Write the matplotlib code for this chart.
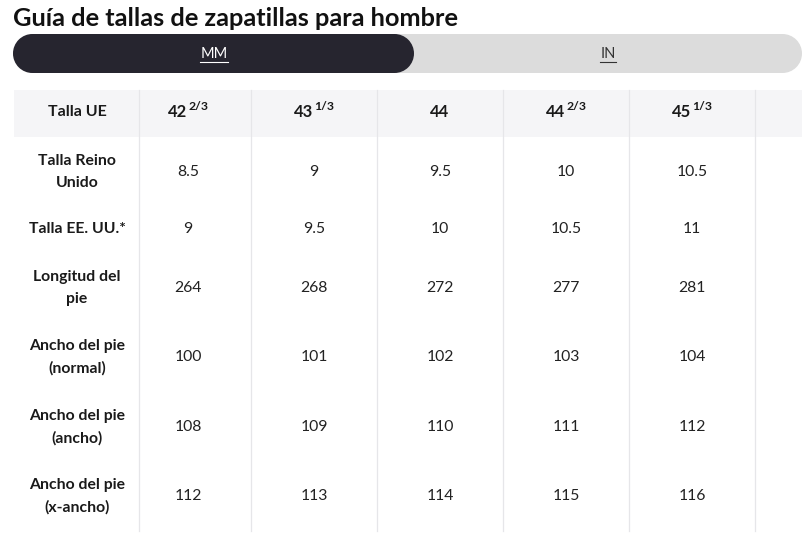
import matplotlib
matplotlib.use("Agg")
import matplotlib.pyplot as plt
from matplotlib.patches import Rectangle, Circle

plt.rcParams['font.family'] = ['Lato', 'DejaVu Sans']

title = "Guía de tallas de zapatillas para hombre"
tabs = ["MM", "IN"]
eu_main = ["42", "43", "44", "44", "45"]
eu_frac = ["2/3", "1/3", "", "2/3", "1/3"]
row_labels = ["Talla Reino\nUnido", "Talla EE. UU.*", "Longitud del\npie",
              "Ancho del pie\n(normal)", "Ancho del pie\n(ancho)", "Ancho del pie\n(x-ancho)"]
uk = [8.5, 9, 9.5, 10, 10.5]
us = [9, 9.5, 10, 10.5, 11]
foot_length = [264, 268, 272, 277, 281]
width_normal = [100, 101, 102, 103, 104]
width_wide = [108, 109, 110, 111, 112]
width_xwide = [112, 113, 114, 115, 116]
rows = [uk, us, foot_length, width_normal, width_wide, width_xwide]

W, H = 802, 539
fig = plt.figure(figsize=(W/100, H/100), dpi=100)
ax = fig.add_axes([0, 0, 1, 1])
ax.set_xlim(0, W)
ax.set_ylim(H, 0)
ax.axis('off')

dark = "#26252f"
text_c = "#1a1a1a"

# title
ax.text(13, 19, title, fontsize=18.3, fontweight='bold', color="#111111", va='center', ha='left')

# toggle pills
for x0, x1, col in [(13, 802, "#dcdcdc"), (13, 414, dark)]:
    r = 19.5
    ax.add_patch(Rectangle((x0 + r, 34), x1 - x0 - 2*r, 39, fc=col, ec='none'))
    ax.add_patch(Circle((x0 + r, 34 + r), r, fc=col, ec='none'))
    ax.add_patch(Circle((x1 - r, 34 + r), r, fc=col, ec='none'))

tab_texts = []
for cx, lab, col in [(214, tabs[0], "white"), (608, tabs[1], "#333333")]:
    tab_texts.append(ax.text(cx, 54, lab, fontsize=10.5, color=col, ha='center', va='center'))
fig.canvas.draw()
renderer = fig.canvas.get_renderer()
inv = ax.transData.inverted()
for t in tab_texts:
    bb = t.get_window_extent(renderer)
    (xa, ya), (xb, yb) = inv.transform([(bb.x0, bb.y0), (bb.x1, bb.y1)])
    ax.plot([xa, xb], [ya + 1.0, ya + 1.0], color=t.get_color(), lw=0.8)

# header background
ax.add_patch(Rectangle((14, 90), W - 14, 47, fc="#f5f5f7", ec='none'))

# vertical lines
for xl in [139, 251, 377, 503, 629, 755]:
    ax.plot([xl, xl], [90, 531], color="#e6e6e9", lw=0.9)

label_x = 77
col_x = [188 + 126*i for i in range(5)]
header_y = 112
row_y = [172, 229, 288, 357, 427, 496]

ax.text(label_x, header_y, "Talla UE", fontsize=11.5, fontweight='bold', color=text_c, ha='center', va='center')

# header values with superscript fractions
for cx, m, f in zip(col_x, eu_main, eu_frac):
    tm = ax.text(0, header_y, m, fontsize=12, fontweight='bold', color=text_c, ha='left', va='center')
    tf = ax.text(0, header_y - 5, f, fontsize=8.8, fontweight='bold', color=text_c, ha='left', va='center') if f else None
    fig.canvas.draw()
    bm = tm.get_window_extent(renderer)
    wm = inv.transform([(bm.x1, 0)])[0][0] - inv.transform([(bm.x0, 0)])[0][0]
    gap = 1.5
    if tf is not None:
        bf = tf.get_window_extent(renderer)
        wf = inv.transform([(bf.x1, 0)])[0][0] - inv.transform([(bf.x0, 0)])[0][0]
        total = wm + gap + wf
    else:
        total = wm
    x0 = cx - total/2
    tm.set_x(x0)
    if tf is not None:
        tf.set_x(x0 + wm + gap)

for lab, vals, y in zip(row_labels, rows, row_y):
    ax.text(label_x, y, lab, fontsize=11.3, fontweight='bold', color=text_c, ha='center', va='center',
            linespacing=1.7)
    for cx, v in zip(col_x, vals):
        ax.text(cx, y, f"{v:g}", fontsize=11.3, color="#222222", ha='center', va='center')

fig.savefig("out.png", dpi=100)
